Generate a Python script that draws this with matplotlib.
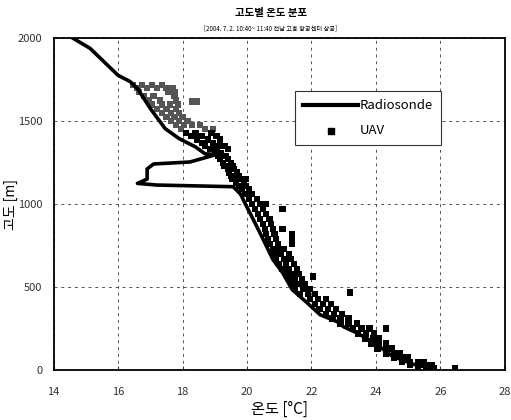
import numpy as np
import matplotlib.pyplot as plt

plt.rcParams['font.family'] = ['Noto Sans CJK KR', 'DejaVu Sans']

# Radiosonde profile (temperature degC, altitude m)
sonde_temp = [14.6, 15.13, 16.0, 16.37, 16.6, 17.0, 17.46, 17.9, 18.4, 18.7, 19.07,
              18.23, 17.1, 16.9, 16.9, 16.6, 17.2, 18.6, 19.57, 19.8, 19.95, 20.19,
              20.5, 20.8, 21.1, 21.4, 21.86, 22.27, 22.8, 23.0, 23.4, 23.9, 24.5,
              25.15, 25.8]
sonde_alt = [2000, 1939, 1776, 1739, 1697, 1576, 1455, 1394, 1345, 1303, 1300,
             1254, 1242, 1212, 1151, 1125, 1115, 1109, 1105, 1060, 1000, 909,
             788, 667, 588, 485, 406, 333, 291, 260, 225, 170, 85,
             35, 8]

# UAV samples, read row by row (altitude level : temperatures)
uav_rows = [
    (1720, [16.45, 16.75, 17.05, 17.35]),
    (1700, [16.6, 16.9, 17.2, 17.5, 17.7]),
    (1675, [16.65, 17.55, 17.75]),
    (1650, [16.8, 17.1, 17.75]),
    (1625, [16.95, 17.3, 17.8]),
    (1618, [18.3, 18.45]),
    (1600, [17.05, 17.35, 17.6, 17.85]),
    (1575, [17.2, 17.5, 17.8]),
    (1550, [17.35, 17.65, 17.9]),
    (1525, [17.5, 17.75, 18.0]),
    (1500, [17.65, 17.9, 18.15]),
    (1475, [17.8, 18.05, 18.3, 18.55]),
    (1455, [17.95, 18.7, 18.95]),
    (1430, [18.1, 18.4, 18.9]),
    (1410, [18.25, 18.6, 19.05]),
    (1390, [18.45, 18.8, 19.15]),
    (1370, [18.6, 18.95]),
    (1350, [18.7, 19.1, 19.3]),
    (1330, [18.85, 19.05, 19.4]),
    (1310, [19.0, 19.2]),
    (1290, [19.1, 19.35]),
    (1270, [19.15, 19.4]),
    (1250, [19.25, 19.5]),
    (1230, [19.3, 19.55]),
    (1210, [19.4, 19.6]),
    (1190, [19.45, 19.7]),
    (1170, [19.5, 19.75]),
    (1150, [19.55, 19.8, 19.97]),
    (1130, [19.65, 19.9]),
    (1110, [19.75, 19.95]),
    (1090, [19.85, 20.05]),
    (1060, [19.95, 20.15]),
    (1030, [20.05, 20.3]),
    (1000, [20.15, 20.4, 20.6]),
    (970, [20.25, 20.5, 21.1]),
    (940, [20.35, 20.6]),
    (910, [20.4, 20.7]),
    (880, [20.5, 20.75]),
    (850, [20.55, 20.8, 21.1]),
    (820, [20.6, 20.85, 21.4]),
    (790, [20.65, 20.9, 21.4]),
    (760, [20.7, 20.95, 21.4]),
    (730, [20.8, 21.0, 21.15]),
    (700, [20.85, 21.05, 21.3]),
    (670, [20.9, 21.15, 21.35]),
    (640, [21.0, 21.2, 21.45]),
    (610, [21.1, 21.3, 21.55]),
    (580, [21.2, 21.4, 21.6]),
    (564, [22.05]),
    (550, [21.3, 21.5, 21.7]),
    (520, [21.4, 21.6, 21.8]),
    (490, [21.5, 21.75, 21.95]),
    (467, [23.2]),
    (460, [21.65, 21.9, 22.1]),
    (430, [21.95, 22.2, 22.45]),
    (400, [22.1, 22.35, 22.6]),
    (370, [22.25, 22.5, 22.75]),
    (340, [22.45, 22.7, 22.95]),
    (310, [22.65, 22.9, 23.15]),
    (280, [22.9, 23.15, 23.4]),
    (250, [23.3, 23.55, 23.8, 24.3]),
    (220, [23.45, 23.7, 23.95]),
    (190, [23.65, 23.9, 24.1]),
    (160, [23.85, 24.1, 24.3]),
    (130, [24.05, 24.3, 24.5]),
    (100, [24.3, 24.55, 24.75]),
    (75, [24.55, 24.8, 25.0]),
    (50, [24.8, 25.05, 25.3, 25.5]),
    (30, [25.05, 25.3, 25.55, 25.75]),
    (12, [25.3, 25.55, 25.8, 26.45]),
]
uav_temp = [t for alt, ts in uav_rows for t in ts]
uav_alt = [alt for alt, ts in uav_rows for t in ts]

x_ticks = [14, 16, 18, 20, 22, 24, 26, 28]
y_ticks = [0, 500, 1000, 1500, 2000]

fig = plt.figure(figsize=(5.11, 4.2), dpi=100)
ax = fig.add_axes([0.105, 0.119, 0.883, 0.79])

# upper UAV points print lighter (grey) in the source
colors = ['#555555' if a >= 1455 else 'black' for a in uav_alt]
ax.scatter(uav_temp, uav_alt, marker='s', s=20, c=colors, linewidths=0, zorder=3)
ax.plot(sonde_temp, sonde_alt, color='black', lw=2.6, zorder=4)

# legend handles
ax.plot([], [], color='black', lw=3, label='Radiosonde')
ax.scatter([], [], marker='s', s=14, color='black', label='UAV')
leg = ax.legend(loc='upper left', bbox_to_anchor=(0.535, 0.84),
                fontsize=9.5, handlelength=4.2, fancybox=False, framealpha=1,
                edgecolor='#333333', borderpad=0.6, labelspacing=0.9, handletextpad=0.1,
                borderaxespad=0)
leg.get_frame().set_linewidth(0.8)

ax.set_xlim(14, 28)
ax.set_ylim(0, 2000)
ax.set_xticks(x_ticks)
ax.set_yticks(y_ticks)
ax.grid(True, color='#555555', linestyle=(0, (3, 4)), linewidth=0.7)
ax.tick_params(axis='x', direction='in', length=3, pad=12, labelsize=8, colors='#333333')
ax.tick_params(axis='y', length=0, pad=8, labelsize=8, colors='#333333')
for s in ax.spines.values():
    s.set_linewidth(1.3)

ax.set_xlabel('온도 [°C]', fontsize=11, labelpad=3)
ax.set_ylabel('고도 [m]', fontsize=10)
ax.yaxis.set_label_coords(-0.078, 0.5)

fig.text(0.53, 0.97, '고도별 온도 분포', ha='center', va='center', fontsize=7.5, weight='bold')
fig.text(0.53, 0.932, '[2004. 7. 2. 10:40~ 11:40 전남 고흥 항공센터 상공]', ha='center',
         va='center', fontsize=4.5)

fig.savefig('out.png', dpi=100)
